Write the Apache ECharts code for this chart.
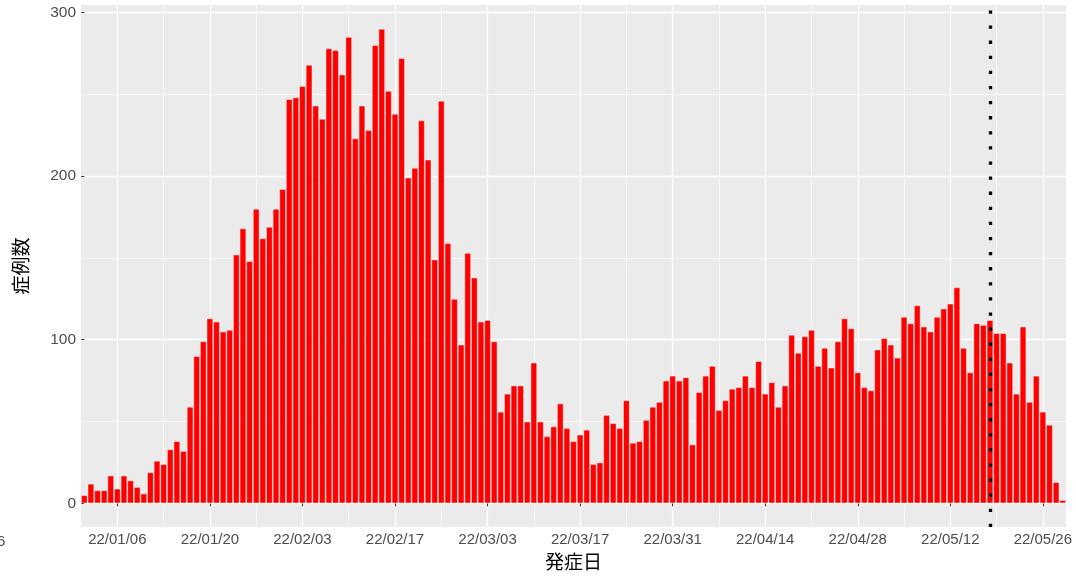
<!DOCTYPE html>
<html>
<head>
<meta charset="utf-8">
<script src="https://cdn.jsdelivr.net/npm/echarts@6/dist/echarts.min.js"></script>
<style>
  html, body { margin: 0; padding: 0; background: #ffffff; }
  #chart { width: 1076px; height: 576px; }
</style>
</head>
<body>
<div id="chart"></div>
<script>
// Daily case counts by onset date, starting 2022-01-01
const counts = [
  5, 12, 8, 8, 17, 9, 17, 14, 10, 6,
  19, 26, 24, 33, 38, 32, 59, 90, 99, 113,
  111, 105, 106, 152, 168, 148, 180, 162, 169, 180,
  192, 247, 248, 255, 268, 243, 235, 278, 277, 262,
  285, 223, 243, 228, 280, 290, 252, 238, 272, 199,
  205, 234, 210, 149, 246, 159, 125, 97, 153, 138,
  111, 112, 99, 56, 67, 72, 72, 50, 86, 50,
  41, 47, 61, 46, 38, 42, 45, 24, 25, 54,
  49, 46, 63, 37, 38, 51, 59, 62, 75, 78,
  75, 77, 36, 68, 78, 84, 57, 63, 70, 71,
  78, 71, 87, 67, 74, 59, 72, 103, 92, 102,
  106, 84, 95, 83, 99, 113, 107, 80, 71, 69,
  94, 101, 97, 89, 114, 110, 121, 108, 105, 114,
  119, 122, 132, 95, 80, 110, 109, 112, 104, 104,
  86, 67, 108, 62, 78, 56, 48, 13, 2
];

// Onset dates as yy/mm/dd, one per count
const pad = n => String(n).padStart(2, '0');
const dates = counts.map((_, i) => {
  const d = new Date(2022, 0, 1 + i);
  return pad(d.getFullYear() % 100) + '/' + pad(d.getMonth() + 1) + '/' + pad(d.getDate());
});

// Labelled dates (major grid) and the weekly dates between them (minor grid)
const majorDates = ['22/01/06', '22/01/20', '22/02/03', '22/02/17', '22/03/03', '22/03/17',
                    '22/03/31', '22/04/14', '22/04/28', '22/05/12', '22/05/26'];
const minorDates = ['22/01/13', '22/01/27', '22/02/10', '22/02/24', '22/03/10', '22/03/24',
                    '22/04/07', '22/04/21', '22/05/05', '22/05/19'];
const yMajor = [0, 100, 200, 300];
const yMinor = [50, 150, 250];
// Cut-off date marked by the dotted line
const cutoffDate = '22/05/18';

const majorIdx = majorDates.map(d => dates.indexOf(d));
const minorIdx = minorDates.map(d => dates.indexOf(d));

const yMaxData = Math.max(...counts);
const yPad = yMaxData * 0.05;

const latin = '"Liberation Sans", Arial, sans-serif';
const cjk = '"Noto Sans CJK JP", "Noto Sans", sans-serif';

const chart = echarts.init(document.getElementById('chart'), null, { renderer: 'canvas' });

chart.setOption({
  animation: false,
  backgroundColor: '#ffffff',
  grid: {
    left: 81, right: 10, top: 5, bottom: 44.5,
    show: true, backgroundColor: '#EBEBEB', borderWidth: 0
  },
  xAxis: [
    {
      type: 'value',
      min: -0.5,
      max: dates.length - 0.5,
      axisLine: { show: false },
      axisTick: { show: true, length: 3, customValues: majorIdx, lineStyle: { color: '#333333', width: 1 } },
      axisLabel: {
        customValues: majorIdx,
        formatter: v => dates[Math.round(v)],
        color: '#4D4D4D', fontSize: 15, fontFamily: latin, margin: 5
      },
      splitLine: { show: true, lineStyle: { color: '#ffffff', width: 1.3 } },
      name: '発症日',
      nameLocation: 'middle',
      nameGap: 24.5,
      nameTextStyle: { color: '#000000', fontSize: 19, fontFamily: cjk }
    },
    {
      type: 'value',
      min: -0.5,
      max: dates.length - 0.5,
      axisLine: { show: false },
      axisTick: { show: false, customValues: minorIdx },
      axisLabel: { show: false, customValues: minorIdx },
      splitLine: { show: true, lineStyle: { color: '#ffffff', width: 0.7 } }
    }
  ],
  yAxis: [
    {
      type: 'value',
      min: -yPad,
      max: yMaxData + yPad,
      axisLine: { show: false },
      axisTick: { show: true, length: 3, customValues: yMajor, lineStyle: { color: '#333333', width: 1 } },
      axisLabel: { customValues: yMajor, color: '#4D4D4D', fontSize: 15.5, fontFamily: latin, margin: 5 },
      splitLine: { show: true, lineStyle: { color: '#ffffff', width: 1.3 } },
      name: '症例数',
      nameLocation: 'middle',
      nameRotate: 90,
      nameGap: 51,
      nameTextStyle: { color: '#000000', fontSize: 19, fontFamily: cjk }
    },
    {
      type: 'value',
      min: -yPad,
      max: yMaxData + yPad,
      axisLine: { show: false },
      axisTick: { show: false, customValues: yMinor },
      axisLabel: { show: false, customValues: yMinor },
      splitLine: { show: true, lineStyle: { color: '#ffffff', width: 0.7 } }
    }
  ],
  graphic: [
    {
      type: 'text',
      x: -3, y: 534,
      style: { text: '6', fill: '#4D4D4D', font: '15px ' + latin }
    }
  ],
  series: [
    {
      type: 'bar',
      xAxisIndex: 0,
      yAxisIndex: 0,
      data: counts.map((v, i) => [i, v]),
      barCategoryGap: '0%',
      itemStyle: { color: '#FF0000', borderColor: 'rgba(255,255,255,0.55)', borderWidth: 0.8 },
      markLine: {
        silent: true,
        symbol: ['none', 'none'],
        label: { show: false },
        lineStyle: { color: '#000000', width: 3.3, type: [3.3, 11.8], cap: 'butt' },
        data: [{ xAxis: dates.indexOf(cutoffDate) }]
      }
    }
  ]
});
</script>
</body>
</html>
